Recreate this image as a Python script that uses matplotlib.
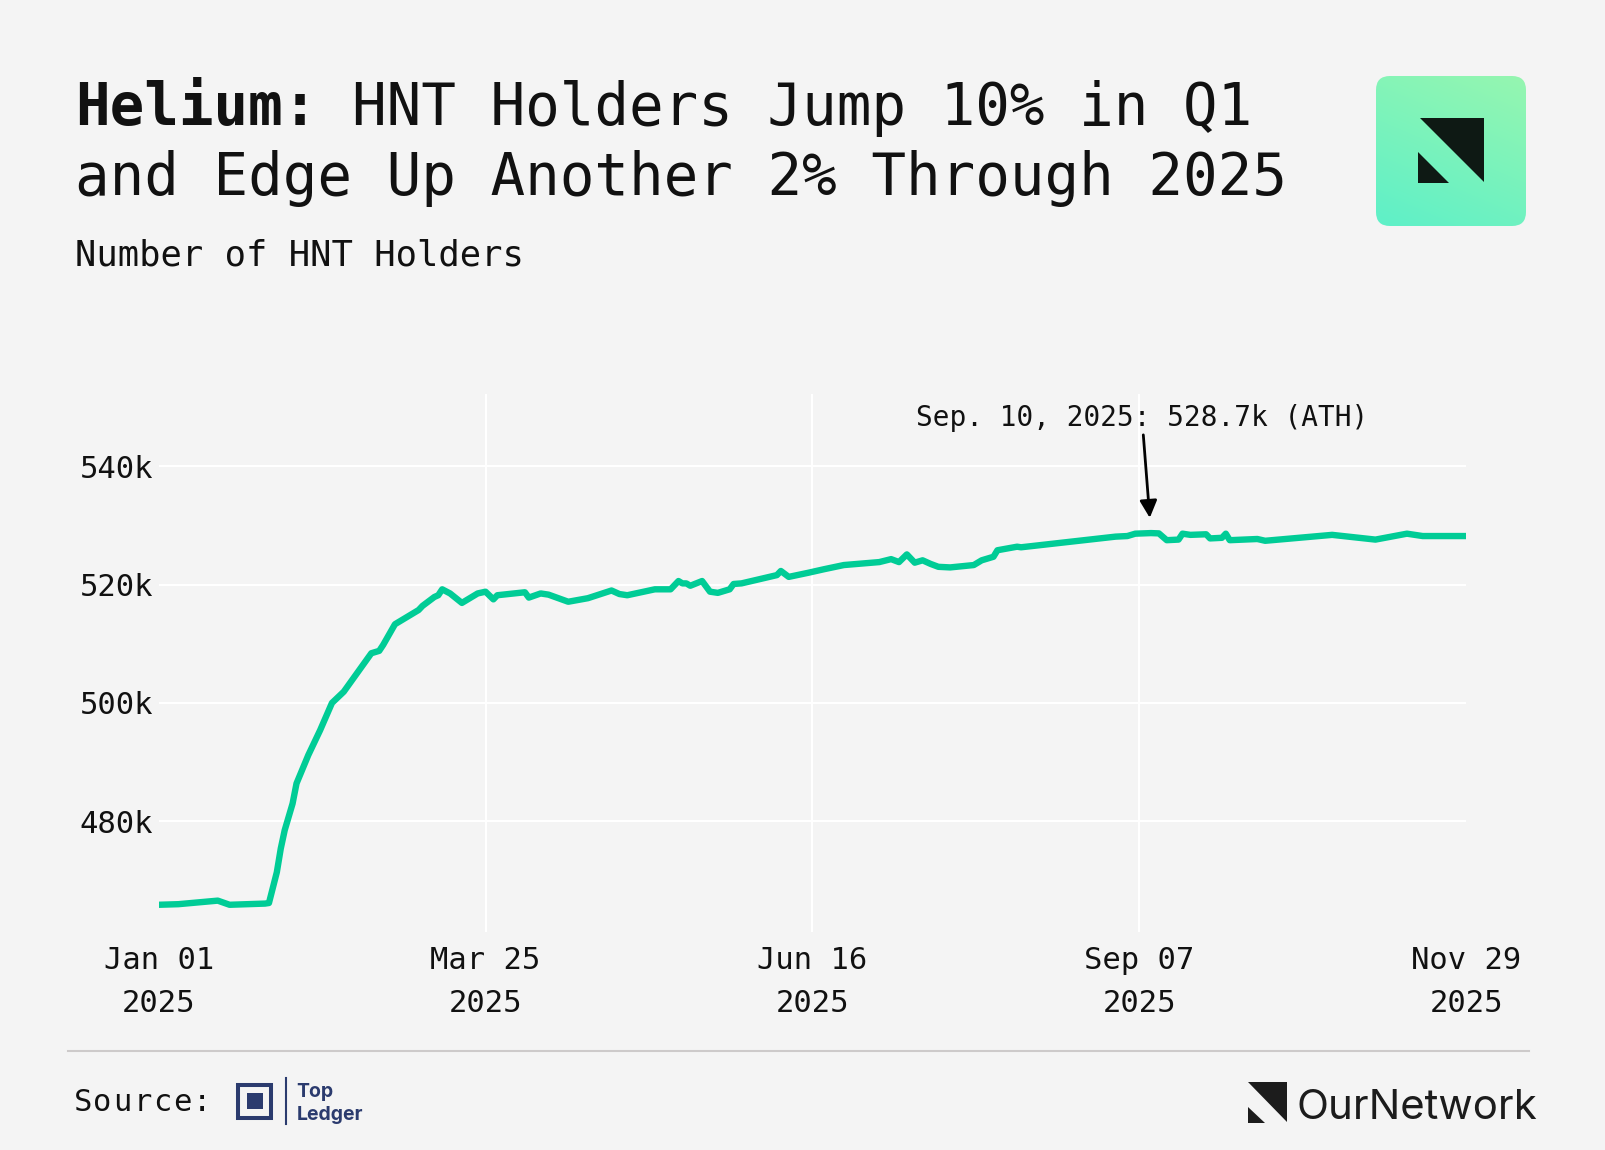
import numpy as np
import pandas as pd
import matplotlib
matplotlib.use("Agg")
import matplotlib.pyplot as plt
import matplotlib.dates as mdates
from matplotlib.patches import FancyBboxPatch, Polygon, Rectangle
from matplotlib.colors import to_rgb

# HNT holders (thousands)
dates = [
    "2025-01-01", "2025-01-06", "2025-01-16", "2025-01-19", "2025-01-28", "2025-01-29",
    "2025-01-31", "2025-02-01", "2025-02-02", "2025-02-04", "2025-02-05", "2025-02-08",
    "2025-02-11", "2025-02-14", "2025-02-17", "2025-02-24", "2025-02-26", "2025-02-27",
    "2025-03-02", "2025-03-06", "2025-03-08", "2025-03-09", "2025-03-12", "2025-03-13",
    "2025-03-14", "2025-03-16", "2025-03-19", "2025-03-23", "2025-03-25", "2025-03-27",
    "2025-03-28", "2025-04-04", "2025-04-05", "2025-04-08", "2025-04-10", "2025-04-15",
    "2025-04-20", "2025-04-26", "2025-04-28", "2025-04-30", "2025-05-07", "2025-05-11",
    "2025-05-13", "2025-05-14", "2025-05-15", "2025-05-16", "2025-05-19", "2025-05-21",
    "2025-05-23", "2025-05-26", "2025-05-27", "2025-05-29", "2025-06-07", "2025-06-08",
    "2025-06-10", "2025-06-15", "2025-06-19", "2025-06-24", "2025-07-03", "2025-07-06",
    "2025-07-08", "2025-07-10", "2025-07-12", "2025-07-14", "2025-07-16", "2025-07-18",
    "2025-07-21", "2025-07-27", "2025-07-29", "2025-08-01", "2025-08-02", "2025-08-07",
    "2025-08-08", "2025-08-20", "2025-09-01", "2025-09-04", "2025-09-06", "2025-09-10",
    "2025-09-12", "2025-09-14", "2025-09-17", "2025-09-18", "2025-09-20", "2025-09-24",
    "2025-09-25", "2025-09-28", "2025-09-29", "2025-09-30", "2025-10-07", "2025-10-09",
    "2025-10-26", "2025-11-06", "2025-11-14", "2025-11-18", "2025-11-29",
]
holders_k = [
    465.9, 466.0, 466.6, 465.9, 466.1, 466.2,
    471.4, 475.4, 478.5, 483.0, 486.4, 491.2,
    495.4, 500.0, 501.9, 508.4, 508.8, 509.8,
    513.3, 514.9, 515.7, 516.4, 517.9, 518.2,
    519.2, 518.5, 516.9, 518.5, 518.8, 517.5,
    518.2, 518.7, 517.8, 518.5, 518.3, 517.1,
    517.7, 519.0, 518.4, 518.2, 519.2, 519.2,
    520.6, 520.2, 520.2, 519.8, 520.6, 518.8,
    518.6, 519.2, 520.1, 520.2, 521.6, 522.3,
    521.3, 522.0, 522.6, 523.3, 523.8, 524.3,
    523.8, 525.1, 523.7, 524.1, 523.5, 523.0,
    522.9, 523.3, 524.1, 524.7, 525.8, 526.4,
    526.3, 527.2, 528.1, 528.2, 528.6, 528.7,
    528.65, 527.5, 527.6, 528.6, 528.4, 528.5,
    527.8, 527.9, 528.6, 527.5, 527.7, 527.4,
    528.4, 527.6, 528.6, 528.2, 528.2,
]
tick_dates = ["2025-01-01", "2025-03-25", "2025-06-16", "2025-09-07", "2025-11-29"]
y_ticks = [480, 500, 520, 540]
ath_date = "2025-09-10"
ath_value = 528.7

BG = "#f4f4f4"
GREEN = "#00cc96"
NAVY = "#2b3b6e"
INK = "#111111"
W, H = 1606, 1150

plt.rcParams["font.family"] = ["DejaVu Sans Mono"]


def main():
    fig = plt.figure(figsize=(W / 100, H / 100), dpi=100, facecolor=BG)

    # main chart, position given in pixels of the 1606x1150 canvas
    left, right, top, bottom = 158.7, 1466, 394, 932
    ax = fig.add_axes([left / W, 1 - bottom / H, (right - left) / W, (bottom - top) / H])
    ax.set_facecolor(BG)
    ax.plot(pd.to_datetime(dates), holders_k, color=GREEN, lw=4.6,
            solid_joinstyle="round", solid_capstyle="butt", zorder=3)
    ax.set_xlim(pd.Timestamp(tick_dates[0]), pd.Timestamp(tick_dates[-1]))
    ax.set_ylim(461.3, 552.2)
    ax.set_xticks(pd.to_datetime(tick_dates))
    ax.xaxis.set_major_formatter(mdates.DateFormatter("%b %d\n%Y"))
    ax.set_yticks(y_ticks)
    ax.set_yticklabels(["%dk" % v for v in y_ticks])
    # horizontal grid, vertical lines only for the inner ticks (edges stay clean)
    ax.grid(True, axis="y", color="white", lw=1.5)
    for d in tick_dates[1:-1]:
        ax.axvline(pd.Timestamp(d), color="white", lw=1.5, zorder=0.5)
    ax.set_axisbelow(True)
    for s in ax.spines.values():
        s.set_visible(False)
    ax.tick_params(length=0, labelsize=22, colors=INK)
    ax.tick_params(axis="x", pad=10)
    ax.tick_params(axis="y", pad=4)
    for lab in ax.get_xticklabels():
        lab.set_linespacing(1.62)

    ax.annotate("Sep. 10, 2025: 528.7k (ATH)",
                xy=(pd.Timestamp(ath_date), ath_value),
                xytext=(-9, 115), textcoords="offset pixels",
                ha="center", va="center", fontsize=20, color=INK,
                arrowprops=dict(arrowstyle="-|>", color="black", lw=2,
                                mutation_scale=26, shrinkA=0, shrinkB=11))

    # overlay in pixel coords for titles, logos, footer
    ov = fig.add_axes([0, 0, 1, 1], zorder=5)
    ov.patch.set_alpha(0)

    title_fs = 41.45
    adv = 0.602 * title_fs * 100 / 72  # monospace advance in px
    ov.text(74.8, 125, "Helium:", fontsize=title_fs, fontweight="bold",
            va="baseline", color=INK)
    ov.text(74.8 + 8 * adv, 125, "HNT Holders Jump 10% in Q1", fontsize=title_fs,
            va="baseline", color=INK)
    ov.text(74.8, 194.6, "and Edge Up Another 2% Through 2025", fontsize=title_fs,
            va="baseline", color=INK)
    ov.text(74.8, 265, "Number of HNT Holders", fontsize=25.6, va="baseline", color=INK)

    # top-right logo with gradient
    box = FancyBboxPatch((1376, 76), 150, 150, boxstyle="round,pad=0,rounding_size=14",
                         fc="none", ec="none")
    ov.add_patch(box)
    n = 120
    u, v = np.meshgrid(np.linspace(0, 1, n), np.linspace(0, 1, n))
    t = (0.7 * (1 - v) + 0.3 * u)[..., None]
    c0 = np.array(to_rgb("#5ef0c8"))
    c1 = np.array(to_rgb("#96f6b0"))
    grad = c0 + t * (c1 - c0)
    im = ov.imshow(grad, extent=(1376, 1526, 226, 76), aspect="auto", zorder=1)
    im.set_clip_path(box)
    ov.add_patch(Polygon([(1420, 117.7), (1484, 117.7), (1484, 181.7)], fc="#0e1914", zorder=2))
    ov.add_patch(Polygon([(1418.3, 151.7), (1418.3, 183.3), (1449.3, 183.3)], fc="#0e1914", zorder=2))

    # footer
    ov.plot([68, 1529], [1050.7, 1050.7], color="#cdcaca", lw=1.5)
    pitch = 19.9
    for i, ch in enumerate("Source:"):
        ov.text(72.7 + (i + 0.5) * pitch, 1110.7, ch, fontsize=22, ha="center",
                va="baseline", color=INK)
    ov.add_patch(Rectangle((238, 1084.7), 33.3, 33.3, fc="none", ec=NAVY, lw=2.9))
    ov.add_patch(Rectangle((246.7, 1093.3), 16, 16, fc=NAVY, ec="none"))
    ov.plot([286, 286], [1078, 1124], color=NAVY, lw=1.5)
    ov.text(296.7, 1097.3, "Top", fontsize=14, fontweight="bold", family="Inter",
            va="baseline", color=NAVY)
    ov.text(296.7, 1120, "Ledger", fontsize=14, fontweight="bold", family="Inter",
            va="baseline", color=NAVY)

    ov.add_patch(Polygon([(1248.3, 1082.3), (1287.3, 1082.3), (1287.3, 1122.3)], fc="#1c1c1c"))
    ov.add_patch(Polygon([(1248.3, 1106.7), (1248.3, 1123.3), (1265, 1123.3)], fc="#1c1c1c"))
    ov.text(1296.7, 1119.3, "OurNetwork", fontsize=30.2, family="Inter",
            va="baseline", color="#1c1c1c")

    ov.set_xlim(0, W)
    ov.set_ylim(H, 0)
    ov.axis("off")

    fig.savefig("out.png", dpi=100, facecolor=BG)


if __name__ == "__main__":
    main()
